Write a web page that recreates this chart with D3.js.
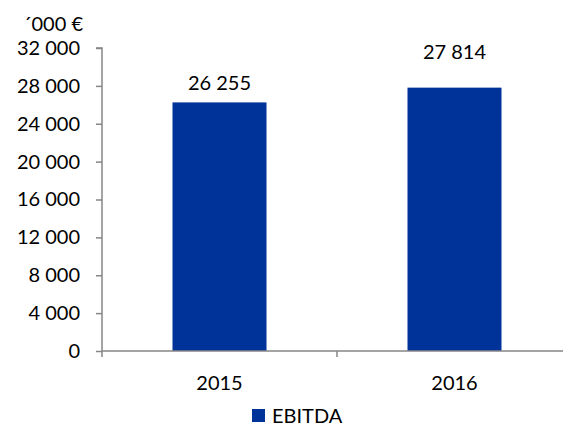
<!DOCTYPE html>
<html><head><meta charset="utf-8">
<script src="https://cdn.jsdelivr.net/npm/d3@7"></script>
<style>body{margin:0;background:#fff}svg{font-family:Lato,"Open Sans",sans-serif}</style>
</head><body>
<svg id="c" width="563" height="426"></svg>
<script>
const categories = ["2015", "2016"];
const ebitda = [26255, 27814];
const yTicks = [0, 4000, 8000, 12000, 16000, 20000, 24000, 28000, 32000];
const seriesName = "EBITDA";
const unitLabel = "´000 €";

(function () {
const svg = d3.select("#c");
const mLeft = 102, mRight = 572, mTop = 48, mBottom = 351;
const labelGap = [12, 29]; // distance of each value label's baseline above its bar
const x = d3.scaleBand().domain(categories).range([mLeft, mRight]).paddingInner(0).paddingOuter(0);
const y = d3.scaleLinear().domain([0, 32000]).range([mBottom, mTop]);
const fmt = v => d3.format(",")(v).replace(/,/g, " ");
const axisColor = "#868686";
const barColor = "#003399";

const bw = x.bandwidth() * 0.4;
svg.selectAll("rect.bar").data(categories).enter().append("rect")
  .attr("x", (d) => x(d) + x.bandwidth()/2 - bw/2)
  .attr("width", bw)
  .attr("y", (d,i) => y(ebitda[i]))
  .attr("height", (d,i) => y(0) - y(ebitda[i]))
  .attr("fill", barColor);

// y axis
const ya = svg.append("g").attr("transform", `translate(${mLeft},0)`)
  .call(d3.axisLeft(y).tickValues(yTicks).tickSize(6).tickFormat(fmt).tickPadding(16));
ya.select(".domain").attr("stroke", axisColor).attr("stroke-width", 1.5).attr("d", `M-6,${mTop}H0V${mBottom}`);
ya.selectAll(".tick line").attr("stroke", axisColor).attr("stroke-width", 1.5);
ya.selectAll(".tick text").attr("font-size", 20).attr("fill", "#000").attr("font-family", "Lato");

// x axis
const xa = svg.append("g").attr("transform", `translate(0,${mBottom})`);
xa.append("line").attr("x1", mLeft).attr("x2", mRight).attr("stroke", axisColor).attr("stroke-width", 1.5);
const bounds = [mLeft, ...categories.map(c => x(c) + x.bandwidth())];
xa.selectAll("line.t").data(bounds).enter().append("line")
  .attr("x1", d => d).attr("x2", d => d).attr("y1", 0).attr("y2", 6)
  .attr("stroke", axisColor).attr("stroke-width", 1.5);
xa.selectAll("text").data(categories).enter().append("text")
  .attr("x", d => x(d) + x.bandwidth()/2).attr("y", 39)
  .attr("text-anchor", "middle").attr("font-size", 20).text(d => d);

// value labels
svg.selectAll("text.val").data(categories).enter().append("text")
  .attr("x", d => x(d) + x.bandwidth()/2)
  .attr("y", (d,i) => y(ebitda[i]) - labelGap[i])
  .attr("text-anchor", "middle").attr("font-size", 20).text((d,i) => fmt(ebitda[i]));

// unit label
svg.append("text").attr("x", 83).attr("y", 31).attr("text-anchor", "end")
  .attr("font-size", 20).text(unitLabel);

// legend
svg.append("rect").attr("x", 252).attr("y", 409).attr("width", 13).attr("height", 13).attr("fill", barColor);
svg.append("text").attr("x", 272).attr("y", 423).attr("font-size", 20).text(seriesName);
})();
</script>
</body></html>
